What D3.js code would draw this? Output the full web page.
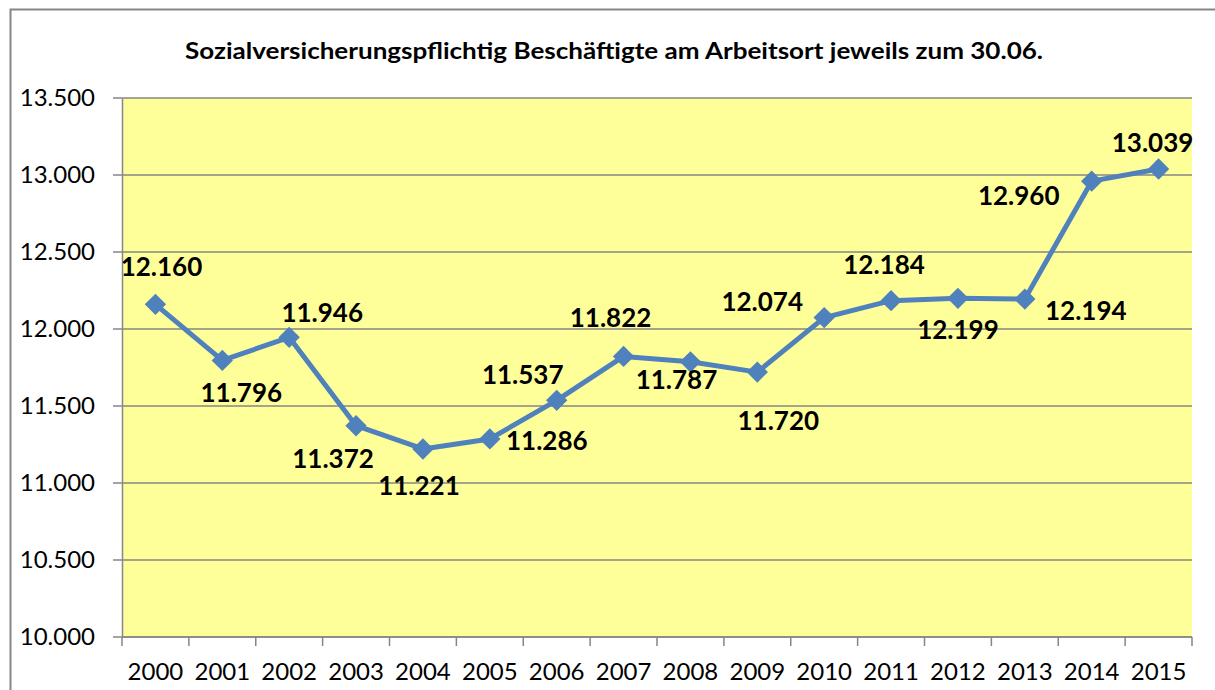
<!DOCTYPE html>
<html><head><meta charset="utf-8">
<script src="https://cdn.jsdelivr.net/npm/d3@7"></script>
<style>html,body{margin:0;padding:0;background:#fff;}svg{display:block;}</style>
</head><body>
<svg id="chart" width="1215" height="690"></svg>
<script>
const title = "Sozialversicherungspflichtig Beschäftigte am Arbeitsort jeweils zum 30.06.";
const years = ["2000","2001","2002","2003","2004","2005","2006","2007","2008","2009","2010","2011","2012","2013","2014","2015"];
const values = [12160,11796,11946,11372,11221,11286,11537,11822,11787,11720,12074,12184,12199,12194,12960,13039];
const yTicks = [10000,10500,11000,11500,12000,12500,13000,13500];
// label offsets (style): [dx, dy] of label centre relative to point
const labelOffsets = [[6,-37],[19,32],[33,-24],[-23,33],[-4,37],[57,2],[-34,-25],[-13,-39],[-14,18],[21,49],[-62,-16],[-7,-36],[0,32],[61,12],[-73,15],[-6,-26]];

const svg = d3.select("#chart");
const m = {l:122, t:98, r:1192, b:637};
const fmt = v => d3.format(",")(v).replace(/,/g,".");
const FONT = "Lato, 'Open Sans', sans-serif";

svg.append("rect").attr("x",10.5).attr("y",9.5).attr("width",1400).attr("height",1000)
  .attr("fill","#fff").attr("stroke","#868686").attr("stroke-width",2);

const x = d3.scaleBand().domain(years).range([m.l,m.r]).padding(0);
const y = d3.scaleLinear().domain([10000,13500]).range([m.b,m.t]);

svg.append("rect").attr("x",m.l).attr("y",m.t).attr("width",m.r-m.l).attr("height",m.b-m.t).attr("fill","#FFFF99");

// grid
svg.append("g").selectAll("line").data(yTicks).join("line")
  .attr("x1",m.l-9).attr("x2",m.r).attr("y1",d=>y(d)).attr("y2",d=>y(d))
  .attr("stroke","#868686").attr("stroke-width",1.5);

// y axis
const yAxis = d3.axisLeft(y).tickValues(yTicks).tickFormat(fmt).tickSize(0).tickPadding(27);
const ga = svg.append("g").attr("transform",`translate(${m.l},0)`).call(yAxis);
ga.select(".domain").attr("stroke","#868686").attr("stroke-width",1.5);
ga.selectAll("text").attr("font-family",FONT).attr("font-size",24).attr("fill","#000");

// x axis
const xb = d3.range(years.length+1).map(i => m.l + i*x.bandwidth());
svg.append("line").attr("x1",m.l).attr("x2",m.r).attr("y1",m.b).attr("y2",m.b).attr("stroke","#868686").attr("stroke-width",1.5);
svg.append("g").selectAll("line").data(xb).join("line")
  .attr("x1",d=>d).attr("x2",d=>d).attr("y1",m.b).attr("y2",m.b+9).attr("stroke","#868686").attr("stroke-width",1.5);
svg.append("g").selectAll("text").data(years).join("text")
  .attr("x",d=>x(d)+x.bandwidth()/2).attr("y",680).attr("text-anchor","middle")
  .attr("font-family",FONT).attr("font-size",24).attr("fill","#000").text(d=>d);

// title
svg.append("text").attr("x",185).attr("y",59)
  .attr("textLength",858).attr("lengthAdjust","spacingAndGlyphs")
  .attr("font-family",FONT).attr("font-weight","bold").attr("font-size",23)
  .attr("fill","#000").text(title);

const px = (d,i) => x(years[i]) + x.bandwidth()/2;
const line = d3.line().x((d,i)=>px(d,i)).y(d=>y(d));
svg.append("path").datum(values).attr("d",line).attr("fill","none").attr("stroke","#4F81BD").attr("stroke-width",5).attr("stroke-linejoin","round");

const diamond = d3.symbol().type(d3.symbolDiamond2).size(290);
svg.append("g").selectAll("path").data(values).join("path")
  .attr("d",diamond).attr("transform",(d,i)=>`translate(${px(d,i)},${y(d)})`)
  .attr("fill","#4F81BD");

svg.append("g").selectAll("text").data(values).join("text")
  .attr("x",(d,i)=>px(d,i)+labelOffsets[i][0]).attr("y",(d,i)=>y(d)+labelOffsets[i][1])
  .attr("dy","0.35em").attr("text-anchor","middle")
  .attr("font-family",FONT).attr("font-weight","bold").attr("font-size",26)
  .attr("fill","#000").text(d=>fmt(d));
</script>
</body></html>
